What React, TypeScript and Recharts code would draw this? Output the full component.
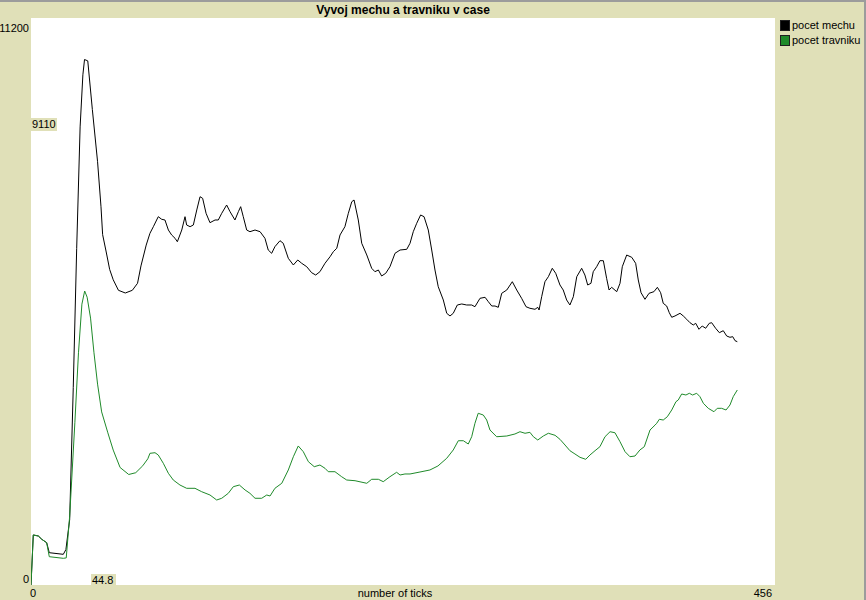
import React from 'react';
import { LineChart, Line, XAxis, YAxis } from 'recharts';

const chartTitle = 'Vyvoj mechu a travniku v case';
const xAxisLabel = 'number of ticks';
const seriesNames = ['pocet mechu', 'pocet travniku'];
const seriesColors = ['#000000', '#1f8a2a'];
const xDomain = [0, 456];
const yDomain = [0, 11200];
const xTickValues = [0, 456];
const yTickValues = [0, 11200];
const hoverYLabel = '9110';
const hoverXLabel = '44.8';

const mechTicks = [
  0, 1.4, 4.5, 6.6, 9.6, 11.2, 19.8, 21.4, 23.7, 25.9, 28.0, 30.1, 31.8, 32.8, 34.8, 37.6, 40.8, 42.9, 43.9,
  46.1, 48.2, 50.4, 53.6, 57.8, 62.1, 65.3, 67.4, 70.6, 72.9, 75.0, 78.0, 80.1, 82.1, 84.2, 86.2, 88.3, 89.7,
  92.4, 94.4, 95.4, 97.5, 99.5, 101.6, 103.6, 105.2, 107.3, 109.7, 112.8, 114.8, 116.9, 119.9, 122.0, 125.0,
  127.1, 128.5, 130.1, 132.2, 134.2, 137.3, 140.4, 143.4, 145.4, 147.5, 149.5, 152.6, 154.6, 157.7, 160.8,
  163.5, 165.9, 169.0, 172.0, 174.5, 177.1, 180.2, 183.3, 185.3, 187.4, 189.4, 192.4, 194.5, 196.6, 198.0,
  200.6, 202.7, 205.8, 208.8, 210.8, 212.9, 214.9, 217.4, 220.0, 223.1, 226.2, 230.3, 232.3, 234.3, 236.4,
  238.8, 240.9, 243.5, 245.6, 247.6, 249.6, 252.7, 254.8, 256.8, 258.8, 261.3, 264.0, 267.0, 270.1, 272.1,
  275.2, 278.3, 280.3, 282.4, 284.4, 286.4, 288.5, 291.6, 295.0, 297.7, 300.7, 303.4, 305.8, 308.9, 310.6,
  311.4, 313.0, 315.0, 317.1, 319.5, 321.6, 324.2, 326.2, 328.3, 330.3, 332.4, 334.5, 337.5, 339.5, 341.2,
  343.2, 344.6, 346.7, 348.7, 350.8, 352.8, 354.3, 355.9, 359.0, 361.0, 362.4, 365.1, 368.2, 370.6, 372.2,
  373.9, 376.3, 378.8, 381.8, 383.9, 385.9, 387.5, 389.6, 391.2, 392.7, 394.7, 397.8, 399.8, 401.9, 403.9,
  405.9, 407.4, 409.4, 411.4, 413.5, 415.7, 417.2, 419.6, 421.9, 424.3, 426.4, 428.4, 430.1, 431.5, 432.9,
];
const mechValues = [
  0, 988, 968, 903, 836, 638, 606, 700, 1290, 3899, 6647, 9049, 10078, 10380, 10353, 9392, 8361, 7471, 6921,
  6578, 6234, 6029, 5821, 5768, 5821, 5960, 6303, 6714, 6947, 7078, 7275, 7224, 7210, 7012, 6914, 6848, 6781,
  7012, 7275, 7111, 7078, 7111, 7408, 7670, 7638, 7342, 7157, 7210, 7210, 7342, 7506, 7374, 7210,
  7374, 7473, 7275, 7012, 6979, 7012, 6979, 6848, 6617, 6552, 6683, 6801, 6750, 6453, 6321,
  6420, 6355, 6287, 6169, 6123, 6189, 6355, 6485, 6584, 6651, 6914, 7078, 7342, 7571, 7605,
  7210, 6750, 6519, 6256, 6189, 6222, 6104, 6157, 6287, 6552, 6617, 6631, 6750, 6979, 7145,
  7309, 7275, 7012, 6617, 6222, 5892, 5630, 5367, 5314, 5367, 5531, 5551, 5531, 5531, 5497,
  5663, 5683, 5596, 5511, 5511, 5485, 5762, 5827, 5991, 5827, 5663, 5497, 5466, 5446, 5485,
  5432, 5695, 5991, 6090, 6256, 6157, 5926, 5827, 5630, 5531, 5695, 6090, 6256, 6123, 5926,
  5959, 6189, 6287, 6406, 6406, 6058, 5827, 5880, 5794, 5959, 6287, 6518, 6473, 6354, 6025,
  5774, 5643, 5762, 5794, 5880, 5774, 5564, 5511, 5379, 5288, 5314, 5367, 5314, 5248, 5181,
  5136, 5169, 5051, 5116, 5071, 5169, 5181, 5071, 4984, 5023, 4918, 4893, 4905, 4826, 4806,
];

const travTicks = [
  0, 1.4, 4.5, 6.6, 9.6, 11.2, 19.8, 21.6, 23.7, 26.9, 29.1, 31.2, 32.9, 34.4, 36.5, 38.6, 40.8, 43.3, 47.1,
  50.4, 54.6, 59.9, 64.2, 68.5, 71.6, 72.9, 76.0, 78.0, 81.1, 84.2, 87.2, 91.3, 95.4, 100.5, 104.6, 109.7,
  113.8, 116.9, 120.9, 124.0, 127.7, 131.2, 134.2, 137.3, 141.4, 144.5, 146.5, 149.5, 153.7, 157.7, 160.8,
  163.8, 166.9, 170.0, 173.6, 177.1, 180.2, 182.2, 186.3, 190.4, 193.5, 198.6, 205.8, 208.8, 212.9, 215.9,
  220.0, 224.1, 226.2, 229.2, 232.3, 238.4, 244.5, 249.4, 254.8, 258.8, 261.9, 265.0, 268.0, 270.1, 272.1,
  274.1, 277.2, 279.3, 281.3, 285.4, 291.6, 296.6, 299.7, 302.8, 305.8, 307.9, 310.6, 314.0, 317.1, 321.2,
  324.2, 327.3, 330.3, 333.4, 336.5, 340.0, 342.6, 345.7, 348.7, 351.8, 354.9, 357.9, 361.0, 364.1, 367.1,
  370.2, 373.2, 375.9, 379.4, 382.5, 383.5, 385.1, 387.5, 390.0, 392.7, 395.3, 396.7, 398.8, 401.4, 403.5,
  405.5, 408.0, 410.0, 412.1, 415.1, 418.6, 420.6, 423.3, 426.0, 428.4, 430.4, 432.9,
];
const travValues = [
  0, 988, 968, 903, 836, 559, 527, 535, 1359, 3214, 4587, 5547, 5807, 5685, 5272, 4587, 3968, 3419, 3006,
  2665, 2321, 2183, 2218, 2355, 2493, 2601, 2613, 2568, 2404, 2206, 2074, 1975, 1910, 1910, 1843, 1778,
  1679, 1713, 1811, 1942, 1975, 1877, 1811, 1713, 1713, 1778, 1758, 1910, 2009, 2272, 2534,
  2746, 2633, 2436, 2337, 2370, 2305, 2238, 2238, 2139, 2074, 2060, 2009, 2088, 2088, 2041,
  2139, 2226, 2173, 2193, 2193, 2232, 2272, 2351, 2503, 2667, 2850, 2850, 2785, 2929, 3194,
  3392, 3358, 3259, 3062, 2929, 2943, 2983, 3028, 2997, 3016, 2929, 2864, 2943, 2997, 2957,
  2878, 2765, 2653, 2588, 2522, 2483, 2568, 2653, 2732, 2929, 3028, 3008, 2831, 2633, 2534,
  2548, 2667, 2732, 3062, 3160, 3194, 3273, 3259, 3324, 3457, 3621, 3654, 3773, 3753, 3787,
  3753, 3787, 3720, 3589, 3490, 3423, 3490, 3490, 3457, 3555, 3720, 3852,
];

const mechData = mechTicks.map((t, i) => ({ t, v: mechValues[i] }));
const travData = travTicks.map((t, i) => ({ t, v: travValues[i] }));

const BG = '#e0e0b8';
const FONT = '"Liberation Sans", Arial, sans-serif';
const SMALL = 11;

const YTick = (props: any) => {
  const { x, y, payload } = props;
  const isTop = payload.value === yDomain[1];
  return (
    <text x={x - 2} y={isTop ? y + 14 : y - 2} textAnchor="end" fontSize={SMALL} fontFamily={FONT} fill="#000">
      {payload.value}
    </text>
  );
};

const XTick = (props: any) => {
  const { x, y, payload } = props;
  const isEnd = payload.value === xDomain[1];
  return (
    <text x={isEnd ? x - 3 : x - 1} y={y + 12} textAnchor={isEnd ? 'end' : 'start'} fontSize={SMALL} fontFamily={FONT} fill="#000">
      {payload.value}
    </text>
  );
};

const XLabel = (props: any) => {
  const vb = props.viewBox || {};
  return (
    <text x={vb.x + vb.width / 2 - 8} y={vb.y + 12} textAnchor="middle" fontSize={SMALL} fontFamily={FONT} fill="#000">
      {xAxisLabel}
    </text>
  );
};

export default function App() {
  return (
    <div style={{ position: 'absolute', left: 0, top: 0, width: 866, height: 600, background: BG, overflow: 'hidden', fontFamily: FONT }}>
      <div style={{ position: 'absolute', left: 0, top: 0, width: 866, height: 2, background: '#9c9c9c' }} />
      <div style={{ position: 'absolute', right: 0, top: 0, width: 2, height: 600, background: '#9c9c9c' }} />
      <div style={{ position: 'absolute', left: 31, top: 18, width: 744, height: 567, background: '#fff' }} />
      <div style={{ position: 'absolute', left: 31, top: 3, width: 744, textAlign: 'center', fontSize: 12, fontWeight: 'bold', lineHeight: '14px' }}>
        {chartTitle}
      </div>
      <div style={{ position: 'absolute', left: 0, top: 0 }}>
        <LineChart width={866} height={600} margin={{ top: 18, right: 91, bottom: 0, left: 0 }}>
          <XAxis
            type="number"
            dataKey="t"
            domain={xDomain}
            ticks={xTickValues}
            allowDataOverflow
            axisLine={false}
            tickLine={false}
            tickSize={0}
            tickMargin={0}
            height={15}
            tick={<XTick />}
            label={<XLabel />}
            interval={0}
          />
          <YAxis
            type="number"
            dataKey="v"
            domain={yDomain}
            ticks={yTickValues}
            allowDataOverflow
            axisLine={false}
            tickLine={false}
            tickSize={0}
            tickMargin={0}
            width={31}
            tick={<YTick />}
            interval={0}
          />
          <Line data={mechData} dataKey="v" type="linear" stroke={seriesColors[0]} strokeWidth={1} dot={false} isAnimationActive={false} name={seriesNames[0]} />
          <Line data={travData} dataKey="v" type="linear" stroke={seriesColors[1]} strokeWidth={1} dot={false} isAnimationActive={false} name={seriesNames[1]} />
        </LineChart>
      </div>
      <div style={{ position: 'absolute', left: 31, top: 118, width: 25, height: 13, background: BG, fontSize: SMALL, lineHeight: '13px', paddingLeft: 1 }}>
        {hoverYLabel}
      </div>
      <div style={{ position: 'absolute', left: 91, top: 574, width: 24, height: 13, background: BG, fontSize: SMALL, lineHeight: '13px', paddingLeft: 1 }}>
        {hoverXLabel}
      </div>
      {seriesNames.map((name, i) => (
        <div key={name} style={{ position: 'absolute', left: 780, top: 19 + i * 15, height: 12, display: 'flex', alignItems: 'center', fontSize: SMALL, lineHeight: '12px' }}>
          <span style={{ display: 'inline-block', width: 8, height: 9, background: seriesColors[i], border: '1px solid #202020', marginRight: 2 }} />
          <span>{name}</span>
        </div>
      ))}
    </div>
  );
}
